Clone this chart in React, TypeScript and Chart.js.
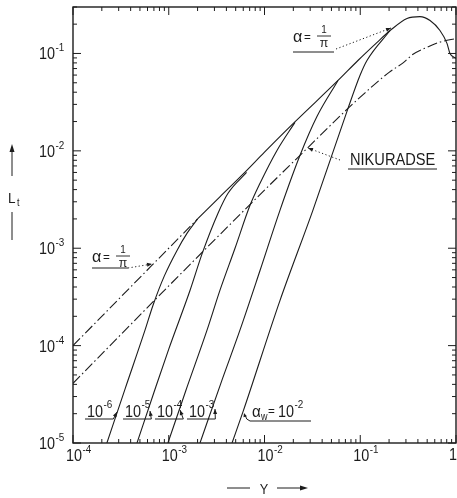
import React, { useEffect, useRef } from 'react';
import { Chart, registerables } from 'chart.js';

Chart.register(...registerables);

// ---- axis ticks ----
const xTickValues = [1e-4, 1e-3, 1e-2, 1e-1, 1];
const xTickExponents = ['-4', '-3', '-2', '-1', ''];
const yTickValues = [1e-5, 1e-4, 1e-3, 1e-2, 1e-1];
const yTickExponents = ['-5', '-4', '-3', '-2', '-1'];

// ---- series (Y, L_t) ----
const alphaLineY = [1e-4, 2e-3];
const alphaLineL = [1e-4, 2e-3];

const envelopeY = [2e-3, 3.4e-3, 6e-3, 0.01, 0.0205, 0.0586, 0.0946, 0.15, 0.205, 0.308, 0.42, 0.536, 0.68, 0.805, 0.865, 1.0];
const envelopeL = [2e-3, 3.35e-3, 5.8e-3, 9.7e-3, 0.0196, 0.0528, 0.0847, 0.13, 0.172, 0.229, 0.239, 0.218, 0.172, 0.127, 0.1, 0.089];

const nikuradseY = [1e-4, 1e-3, 1e-2, 0.0235, 0.0745, 0.0993, 0.2, 0.28, 0.356, 0.5, 0.7, 1.0];
const nikuradseL = [4.1e-5, 4.1e-4, 3.95e-3, 9.0e-3, 0.0273, 0.0354, 0.064, 0.08, 0.098, 0.116, 0.132, 0.142];

const aw6Y = [2.26e-4, 3.5e-4, 5.65e-4, 6.85e-4, 9e-4, 1.22e-3, 1.55e-3, 2e-3];
const aw6L = [1e-5, 3.6e-5, 1.44e-4, 2.6e-4, 5.2e-4, 9.5e-4, 1.42e-3, 2e-3];

const aw5Y = [4.66e-4, 7e-4, 1e-3, 1.67e-3, 2.25e-3, 3.27e-3, 4.16e-3, 6.5e-3];
const aw5L = [1e-5, 3.3e-5, 9.2e-5, 3.7e-4, 9.0e-4, 2.29e-3, 3.67e-3, 6.0e-3];

const aw4Y = [9.8e-4, 1.5e-3, 2.51e-3, 3.43e-3, 4.92e-3, 7.06e-3, 8.98e-3, 0.0135, 0.0208];
const aw4L = [1e-5, 3.4e-5, 1.44e-4, 3.71e-4, 1.0e-3, 2.76e-3, 4.65e-3, 0.0101, 0.0196];

const aw3Y = [2.12e-3, 3.5e-3, 5.54e-3, 8.98e-3, 0.0145, 0.0235, 0.0353, 0.0586];
const aw3L = [1e-5, 4.1e-5, 1.44e-4, 5.9e-4, 2.45e-3, 9.0e-3, 0.0225, 0.0528];

const aw2Y = [4.58e-3, 5.97e-3, 0.0145, 0.032, 0.0745, 0.0993, 0.1175, 0.205];
const aw2L = [1e-5, 2.1e-5, 2.9e-4, 2.45e-3, 0.0273, 0.0594, 0.0847, 0.172];

const wallLabelExponents = ['-6', '-5', '-4', '-3'];

const INK = '#1c1c1c';
const FONT = '"Liberation Sans", Arial, sans-serif';

function pts(xs: number[], ys: number[]) {
  return xs.map((x, i) => ({ x, y: ys[i] }));
}

function txt(ctx: CanvasRenderingContext2D, s: string, x: number, y: number, size: number, sx = 0.88, align: 'left' | 'center' | 'right' = 'left') {
  ctx.save();
  ctx.font = `${size}px ${FONT}`;
  const w = ctx.measureText(s).width * sx;
  let x0 = x;
  if (align === 'center') x0 = x - w / 2;
  if (align === 'right') x0 = x - w;
  ctx.translate(x0, y);
  ctx.scale(sx, 1);
  ctx.textAlign = 'left';
  ctx.textBaseline = 'alphabetic';
  ctx.fillText(s, 0, 0);
  ctx.restore();
  return w;
}

function pow10(ctx: CanvasRenderingContext2D, x: number, y: number, exp: string, size = 16, supSize = 11, supRise = 8) {
  const w = txt(ctx, '10', x, y, size, 0.9);
  const w2 = txt(ctx, exp, x + w + 0.5, y - supRise, supSize, 0.9);
  return w + w2 + 0.5;
}

function seg(ctx: CanvasRenderingContext2D, x1: number, y1: number, x2: number, y2: number) {
  ctx.beginPath();
  ctx.moveTo(x1, y1);
  ctx.lineTo(x2, y2);
  ctx.stroke();
}

function arrowHead(ctx: CanvasRenderingContext2D, x: number, y: number, ang: number, len = 6, half = 2.2) {
  const c = Math.cos(ang), s = Math.sin(ang);
  ctx.beginPath();
  ctx.moveTo(x, y);
  ctx.lineTo(x - len * c - half * s, y - len * s + half * c);
  ctx.lineTo(x - len * c + half * s, y - len * s - half * c);
  ctx.closePath();
  ctx.fill();
}

function leader(ctx: CanvasRenderingContext2D, x1: number, y1: number, x2: number, y2: number, dotted: boolean) {
  ctx.save();
  if (dotted) ctx.setLineDash([1.2, 2.4]);
  seg(ctx, x1, y1, x2, y2);
  ctx.restore();
  arrowHead(ctx, x2, y2, Math.atan2(y2 - y1, x2 - x1), 5, 2);
}

function alphaFraction(ctx: CanvasRenderingContext2D, x: number, base: number) {
  txt(ctx, 'α', x, base, 17, 0.95);
  txt(ctx, '=', x + 11, base - 1, 13, 0.9);
  const cx = x + 31;
  txt(ctx, '1', cx, base - 9, 11, 0.9, 'center');
  ctx.save();
  ctx.lineWidth = 0.9;
  seg(ctx, cx - 7, base - 6, cx + 7, base - 6);
  ctx.restore();
  txt(ctx, 'π', cx, base + 5, 13, 0.95, 'center');
}

const decor = {
  id: 'decor',
  afterDraw(chart: any) {
    const ctx: CanvasRenderingContext2D = chart.ctx;
    const a = chart.chartArea;
    const xs = chart.scales.x;
    const ys = chart.scales.y;
    ctx.save();
    ctx.strokeStyle = INK;
    ctx.fillStyle = INK;

    // frame
    ctx.lineWidth = 1.4;
    ctx.strokeRect(a.left, a.top, a.right - a.left, a.bottom - a.top);

    // inward ticks
    ctx.lineWidth = 1;
    for (let d = -4; d <= 0; d++) {
      for (let k = 1; k <= 9; k++) {
        const v = k * Math.pow(10, d);
        if (v > 1.0001) break;
        const px = xs.getPixelForValue(v);
        const len = k === 1 ? 8 : 4;
        seg(ctx, px, a.bottom, px, a.bottom - len);
        seg(ctx, px, a.top, px, a.top + len);
      }
    }
    for (let d = -5; d <= -1; d++) {
      for (let k = 1; k <= 9; k++) {
        const v = k * Math.pow(10, d);
        if (v > 0.3001) break;
        const py = ys.getPixelForValue(v);
        const len = k === 1 ? 8 : 4;
        seg(ctx, a.left, py, a.left + len, py);
        seg(ctx, a.right, py, a.right - len, py);
      }
    }

    // tick labels
    xTickValues.forEach((v, i) => {
      const px = xs.getPixelForValue(v);
      if (xTickExponents[i] === '') {
        txt(ctx, '1', px + 1, a.bottom + 17, 16, 0.9, 'right');
      } else {
        pow10(ctx, px - 7, a.bottom + 18, xTickExponents[i], 16, 11, 8);
      }
    });
    yTickValues.forEach((v, i) => {
      const py = ys.getPixelForValue(v);
      pow10(ctx, a.left - 34, py + 6, yTickExponents[i], 16, 11, 8);
    });

    // axis titles
    txt(ctx, 'L', 8, 203, 15, 0.9);
    txt(ctx, 't', 17, 206, 10, 0.9);
    ctx.lineWidth = 1;
    seg(ctx, 12, 176, 12, 150);
    arrowHead(ctx, 12, 144, -Math.PI / 2, 8, 2.5);
    seg(ctx, 12, 212, 12, 240);

    txt(ctx, 'Y', 264, 494, 15, 0.85, 'center');
    seg(ctx, 227, 488, 250, 488);
    seg(ctx, 277, 488, 302, 488);
    arrowHead(ctx, 308, 488, 0, 8, 2.5);

    // alpha = 1/pi labels
    alphaFraction(ctx, 293, 42);
    ctx.lineWidth = 1;
    seg(ctx, 293, 52, 334, 52);
    leader(ctx, 336, 49, 391, 28, true);

    alphaFraction(ctx, 92, 262);
    seg(ctx, 92, 268, 128, 268);
    leader(ctx, 128, 268, 152, 264, true);

    // NIKURADSE
    txt(ctx, 'NIKURADSE', 350, 165, 17, 0.86);
    seg(ctx, 348, 169, 437, 169);
    leader(ctx, 340, 160, 308, 148, true);

    // wall labels
    const wallX = [87, 125, 157, 189];
    const wallTarget = [[117, 412], [150, 411], [180, 410], [215, 409]];
    wallLabelExponents.forEach((e, i) => {
      const x = wallX[i];
      const w = pow10(ctx, x, 417, e, 16, 11, 9);
      const ux = x + w + 1;
      seg(ctx, x - 2, 419, ux, 419);
      leader(ctx, ux, 419, wallTarget[i][0], wallTarget[i][1], false);
    });

    // alpha_w = 10^-2
    txt(ctx, 'α', 252, 417, 16, 0.95);
    txt(ctx, 'w', 261, 420, 10, 0.9);
    txt(ctx, '=', 268, 415, 13, 0.9);
    pow10(ctx, 278, 417, '-2', 16, 11, 9);
    seg(ctx, 250, 421, 311, 421);
    ctx.beginPath();
    ctx.moveTo(250, 421);
    ctx.quadraticCurveTo(246, 420, 245, 415);
    ctx.stroke();
    arrowHead(ctx, 244, 413, -Math.PI / 2 - 0.3, 4, 1.8);

    ctx.restore();
  },
};

export default function App() {
  const ref = useRef<HTMLCanvasElement>(null);

  useEffect(() => {
    if (!ref.current) return;
    const dashDot = [10, 3, 1.5, 3];
    const solid = (data: any[]) => ({
      data,
      borderColor: INK,
      borderWidth: 1.1,
      pointRadius: 0,
      cubicInterpolationMode: 'monotone' as const,
      fill: false,
    });
    const chart = new Chart(ref.current, {
      type: 'line',
      data: {
        datasets: [
          { ...solid(pts(alphaLineY, alphaLineL)), borderDash: dashDot, label: 'α = 1/π' },
          { ...solid(pts(envelopeY, envelopeL)), label: 'envelope' },
          { ...solid(pts(nikuradseY, nikuradseL)), borderDash: dashDot, label: 'NIKURADSE' },
          { ...solid(pts(aw6Y, aw6L)), label: 'αw = 1e-6' },
          { ...solid(pts(aw5Y, aw5L)), label: 'αw = 1e-5' },
          { ...solid(pts(aw4Y, aw4L)), label: 'αw = 1e-4' },
          { ...solid(pts(aw3Y, aw3L)), label: 'αw = 1e-3' },
          { ...solid(pts(aw2Y, aw2L)), label: 'αw = 1e-2' },
        ],
      },
      options: {
        responsive: false,
        animation: false,
        parsing: false as any,
        layout: { padding: { left: 73, right: 1, top: 7, bottom: 55 } },
        plugins: { legend: { display: false }, tooltip: { enabled: false } },
        scales: {
          x: { type: 'logarithmic', min: 1e-4, max: 1, display: false },
          y: { type: 'logarithmic', min: 1e-5, max: 0.3, display: false },
        },
      },
      plugins: [decor],
    });
    return () => chart.destroy();
  }, []);

  return (
    <canvas
      ref={ref}
      width={457}
      height={498}
      style={{ position: 'absolute', left: 0, top: 0, background: '#fff' }}
    />
  );
}
